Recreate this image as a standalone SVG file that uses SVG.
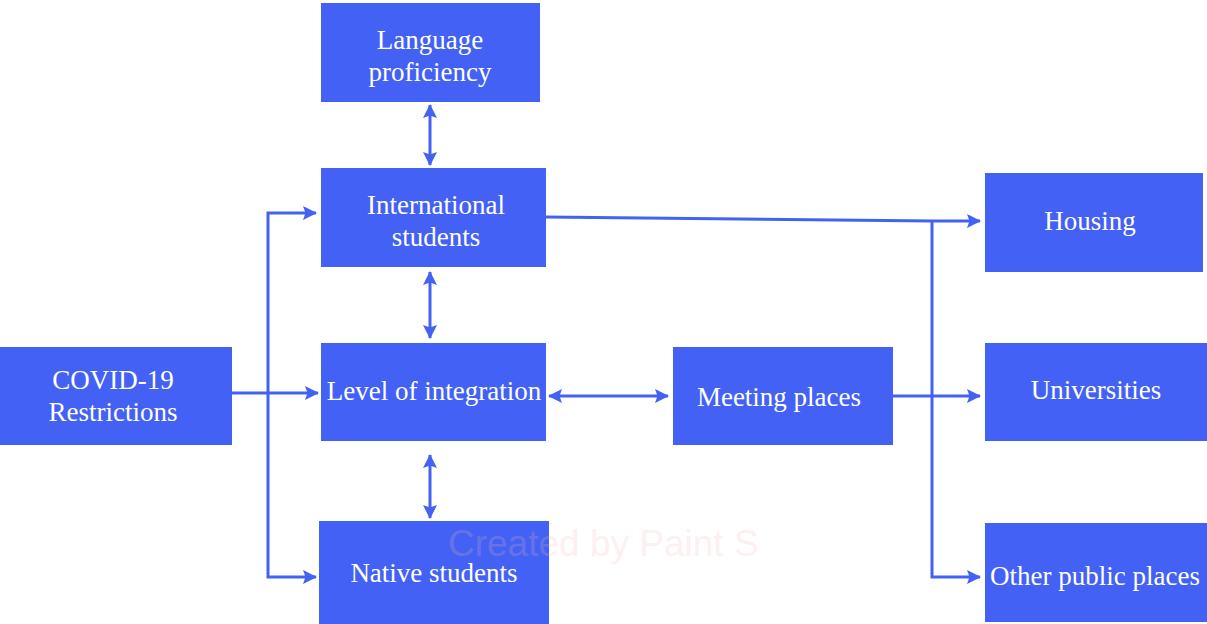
<svg xmlns="http://www.w3.org/2000/svg" width="1207" height="624" viewBox="0 0 1207 624">
  <style>
    .box { fill: #4361f4; }
    .lbl { fill: #ffffff; font-family: "Liberation Serif", "Times New Roman", serif; font-size: 27px; text-anchor: middle; }
    .wire { fill: none; stroke: #4361f4; stroke-width: 3; }
    .mark { font-family: "Liberation Sans", Arial, sans-serif; font-size: 37px; fill: #f5b8b8; opacity: 0.2; }
  </style>
  <defs>
    <marker id="head" viewBox="0 0 14 14" refX="13" refY="7" markerWidth="14" markerHeight="14" markerUnits="userSpaceOnUse" orient="auto-start-reverse">
      <path d="M0,0 L14,7 L0,14 L2.5,7 Z" fill="#4361f4"/>
    </marker>
  </defs>
  <rect width="1207" height="624" fill="#ffffff"/>

  <g id="connectors">
    <!-- two-way links along the central column -->
    <line class="wire" x1="430" y1="105" x2="430" y2="165" marker-start="url(#head)" marker-end="url(#head)"/>
    <line class="wire" x1="430" y1="272" x2="430" y2="338" marker-start="url(#head)" marker-end="url(#head)"/>
    <line class="wire" x1="430" y1="455" x2="430" y2="518" marker-start="url(#head)" marker-end="url(#head)"/>
    <line class="wire" x1="549" y1="396" x2="668" y2="396" marker-start="url(#head)" marker-end="url(#head)"/>
    <!-- restrictions fan out -->
    <line class="wire" x1="232" y1="393" x2="318" y2="393" marker-end="url(#head)"/>
    <polyline class="wire" points="316,213 268,213 268,577 316,577" marker-start="url(#head)" marker-end="url(#head)"/>
    <!-- places of contact -->
    <polyline class="wire" points="546,217 932,221 980,221" marker-end="url(#head)"/>
    <polyline class="wire" points="932,220 932,577 980,577" marker-end="url(#head)"/>
    <line class="wire" x1="893" y1="396" x2="980" y2="396" marker-end="url(#head)"/>
  </g>

  <g id="language">
    <rect class="box" x="321" y="3" width="219" height="99"/>
    <text class="lbl" x="430" y="49">Language</text>
    <text class="lbl" x="430" y="81">proficiency</text>
  </g>
  <g id="international">
    <rect class="box" x="321" y="168" width="225" height="99"/>
    <text class="lbl" x="436" y="214">International</text>
    <text class="lbl" x="436" y="246">students</text>
  </g>
  <g id="integration">
    <rect class="box" x="321" y="343" width="225" height="98"/>
    <text class="lbl" x="434" y="400">Level of integration</text>
  </g>
  <g id="native">
    <rect class="box" x="319" y="521" width="230" height="103"/>
    <text class="lbl" x="434" y="582">Native students</text>
  </g>
  <g id="covid">
    <rect class="box" x="0" y="347" width="232" height="98"/>
    <text class="lbl" x="113" y="389">COVID-19</text>
    <text class="lbl" x="113" y="421">Restrictions</text>
  </g>
  <g id="meeting">
    <rect class="box" x="673" y="347" width="220" height="98"/>
    <text class="lbl" x="779" y="406">Meeting places</text>
  </g>
  <g id="housing">
    <rect class="box" x="985" y="173" width="218" height="99"/>
    <text class="lbl" x="1090" y="230">Housing</text>
  </g>
  <g id="universities">
    <rect class="box" x="985" y="343" width="222" height="98"/>
    <text class="lbl" x="1096" y="399">Universities</text>
  </g>
  <g id="public">
    <rect class="box" x="985" y="523" width="222" height="99"/>
    <text class="lbl" x="1095" y="585">Other public places</text>
  </g>

  <text class="mark" x="448" y="556">Created by Paint S</text>
</svg>
